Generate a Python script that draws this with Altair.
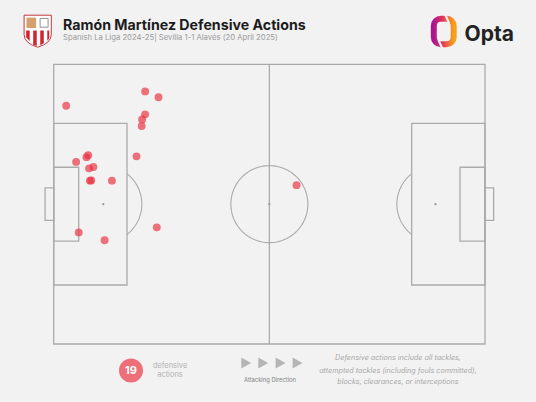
import altair as alt
import pandas as pd
import numpy as np

# ---- data: defensive actions (Opta coords, 0-100, attacking left->right) ----
act_x = [2.9, 21.2, 24.3, 21.2, 20.5, 20.4, 19.2, 8.0, 7.6, 5.2,
         9.2, 8.2, 8.7, 8.4, 13.5, 5.8, 11.8, 23.9, 56.3]
act_y = [85.2, 90.3, 88.2, 82.1, 80.3, 77.9, 67.1, 67.5, 66.8, 65.1,
         63.3, 62.8, 58.5, 58.4, 58.4, 39.9, 37.1, 41.7, 56.8]

title_text = "Ramón Martínez Defensive Actions"
subtitle_text = "Spanish La Liga 2024-25| Sevilla 1-1 Alavés (20 April 2025)"
count_label = "19"
legend_lines = ["defensive", "actions"]
direction_label = "Attacking Direction"
note_lines = ["Defensive actions include all tackles,",
              "attempted tackles (including fouls committed),",
              "blocks, clearances, or interceptions"]

BG = "#f2f2f2"
LINE = "#ababab"
RED = "#e93141"

xs = alt.Scale(domain=[0, 100], range=[53.7, 485])
ys = alt.Scale(domain=[0, 100], range=[344, 64.3])

# ---- pitch geometry ----
rects = pd.DataFrame({
    "x": [0, 0, 0, -2, 83, 94.2, 100],
    "x2": [100, 17, 5.8, 0, 100, 100, 102],
    "y": [0, 21.1, 36.8, 44.2, 21.1, 36.8, 44.2],
    "y2": [100, 78.9, 63.2, 55.8, 78.9, 63.2, 55.8],
})
pitch_rects = alt.Chart(rects).mark_rect(
    fill=BG, fillOpacity=0, stroke=LINE, strokeWidth=1.3
).encode(
    x=alt.X("x:Q", scale=xs, axis=None), x2="x2:Q",
    y=alt.Y("y:Q", scale=ys, axis=None), y2="y2:Q",
)

halfway = alt.Chart(pd.DataFrame({"x": [50], "y": [0], "y2": [100]})).mark_rule(
    color=LINE, strokeWidth=1.3
).encode(x=alt.X("x:Q", scale=xs, axis=None),
         y=alt.Y("y:Q", scale=ys, axis=None), y2="y2:Q")

spots = alt.Chart(pd.DataFrame({"x": [11.5, 50, 88.5], "y": [50, 50, 50]})).mark_point(
    filled=True, color="#999999", size=5, opacity=1
).encode(x=alt.X("x:Q", scale=xs, axis=None), y=alt.Y("y:Q", scale=ys, axis=None))

# circles / arcs (geometry of the pitch)
rx, ry = 8.93, 13.77
rows = []
t = np.linspace(0, 2 * np.pi, 121)
for i, a in enumerate(t):
    rows.append({"g": "c", "o": i, "x": 50 + rx * np.cos(a), "y": 50 + ry * np.sin(a)})
ta = np.arccos(5.5 / rx)
for i, a in enumerate(np.linspace(-ta, ta, 40)):
    rows.append({"g": "l", "o": i, "x": 11.5 + rx * np.cos(a), "y": 50 + ry * np.sin(a)})
    rows.append({"g": "r", "o": i, "x": 88.5 - rx * np.cos(a), "y": 50 + ry * np.sin(a)})
arcs = alt.Chart(pd.DataFrame(rows)).mark_line(color=LINE, strokeWidth=1.1).encode(
    x=alt.X("x:Q", scale=xs, axis=None), y=alt.Y("y:Q", scale=ys, axis=None),
    detail="g:N", order="o:Q")

acts = alt.Chart(pd.DataFrame({"x": act_x, "y": act_y})).mark_circle(
    color=RED, opacity=0.68, size=62
).encode(x=alt.X("x:Q", scale=xs, axis=None), y=alt.Y("y:Q", scale=ys, axis=None))

def txt(s, x, y, **kw):
    return alt.Chart(pd.DataFrame({"t": [s]})).mark_text(**kw).encode(
        text="t:N", x=alt.value(x), y=alt.value(y))

title = txt(title_text, 63, 29.5, align="left", baseline="alphabetic",
            font="Inter", fontSize=14.2, fontWeight="bold", color="#1c1c1c")
subtitle = txt(subtitle_text, 63, 40, align="left", baseline="alphabetic",
               font="Inter", fontSize=7.7, color="#9a9a9a")

# Sevilla crest (simplified)
CREST_X, CREST_Y = 37.7, 31.2
shield = alt.Chart(pd.DataFrame({"a": [0]})).mark_point(
    shape="M-0.85,-1L0.85,-1L0.85,0.2Q0.85,0.75 0,1Q-0.85,0.75 -0.85,0.2Z",
    filled=True, fill="white", stroke="#c4363f", strokeWidth=1, size=1024, opacity=1
).encode(x=alt.value(CREST_X), y=alt.value(CREST_Y))
stripes = alt.Chart(pd.DataFrame({"a": [0]})).mark_point(
    shape=("M-0.72,-0.05L-0.5,-0.05L-0.5,0.62L-0.72,0.4Z"
           "M-0.28,-0.05L-0.06,-0.05L-0.06,0.92L-0.28,0.84Z"
           "M0.16,-0.05L0.38,-0.05L0.38,0.76L0.16,0.88Z"
           "M0.6,-0.05L0.72,-0.05L0.72,0.45L0.6,0.6Z"),
    filled=True, fill="#d2232f", strokeWidth=0, size=1024, opacity=1
).encode(x=alt.value(CREST_X), y=alt.value(CREST_Y))
emblem = alt.Chart(pd.DataFrame({"a": [0]})).mark_point(
    shape="M-0.7,-0.85L-0.1,-0.85L-0.1,-0.2L-0.7,-0.2Z",
    filled=True, fill="#c98a4a", strokeWidth=0, size=1024, opacity=0.8
).encode(x=alt.value(CREST_X), y=alt.value(CREST_Y))
emblem2 = alt.Chart(pd.DataFrame({"a": [0]})).mark_point(
    shape="M0.15,-0.8L0.65,-0.8L0.65,-0.25L0.15,-0.25Z",
    filled=False, stroke="#555555", strokeWidth=0.8, size=1024, opacity=0.8
).encode(x=alt.value(CREST_X), y=alt.value(CREST_Y))

# Opta logo
grad = alt.Gradient(gradient="linear",
                    stops=[alt.GradientStop(color="#a8178f", offset=0),
                           alt.GradientStop(color="#e8365a", offset=0.45),
                           alt.GradientStop(color="#f7a11a", offset=1)],
                    x1=0, x2=1, y1=0, y2=0)
opta_ring = alt.Chart(pd.DataFrame({"a": [0]})).mark_rect(
    fillOpacity=0, stroke=grad, strokeWidth=6, cornerRadius=7
).encode(x=alt.value(433.8), x2=alt.value(453.7), y=alt.value(18.7), y2=alt.value(44.3))
cut1 = alt.Chart(pd.DataFrame({"a": [0]})).mark_rule(color=BG, strokeWidth=2.2).encode(
    x=alt.value(445), x2=alt.value(449), y=alt.value(14), y2=alt.value(23))
cut2 = alt.Chart(pd.DataFrame({"a": [0]})).mark_rule(color=BG, strokeWidth=2.2).encode(
    x=alt.value(438.5), x2=alt.value(442.5), y=alt.value(40), y2=alt.value(49))
opta_txt = txt("Opta", 464.5, 41, align="left", baseline="alphabetic",
               font="Inter", fontSize=21, fontWeight="bold", color="#222222")

# bottom legend
badge = alt.Chart(pd.DataFrame({"a": [0]})).mark_circle(
    color=RED, opacity=0.68, size=576
).encode(x=alt.value(131), y=alt.value(370.5))
badge_txt = txt(count_label, 131, 371, align="center", baseline="middle",
                font="Inter", fontSize=11, fontWeight="bold", color="white")
leg1 = txt(legend_lines[0], 170, 366, align="center", baseline="middle",
           font="Inter", fontSize=7.5, color="#b3b3b3")
leg2 = txt(legend_lines[1], 170, 375, align="center", baseline="middle",
           font="Inter", fontSize=7.5, color="#b3b3b3")

tri = alt.Chart(pd.DataFrame({"px": [245.7, 262.7, 280, 297]})).mark_point(
    shape="M-0.8,-1L1,0L-0.8,1Z", filled=True, color="#b5b5b5", size=121, opacity=1
).encode(x=alt.X("px:Q", scale=None), y=alt.value(363))
dir_txt = txt(direction_label, 270, 380, align="center", baseline="middle",
              font="Inter", fontSize=5.8, color="#808080")

notes = [txt(s, 398, yy, align="center", baseline="middle", font="Inter",
             fontSize=7.2, fontStyle="italic", color="#a9a9a9")
         for s, yy in zip(note_lines, [358, 370.5, 382])]

chart = alt.layer(
    pitch_rects, halfway, arcs, spots, acts,
    title, subtitle, shield, stripes, emblem, emblem2,
    opta_ring, cut1, cut2, opta_txt,
    badge, badge_txt, leg1, leg2, tri, dir_txt, *notes
).properties(
    width=536, height=402, padding=0, background=BG,
    autosize=alt.AutoSizeParams(type="none")
).configure_view(strokeWidth=0)

chart.save("out.html", embed_options={"renderer": "svg", "actions": False})
